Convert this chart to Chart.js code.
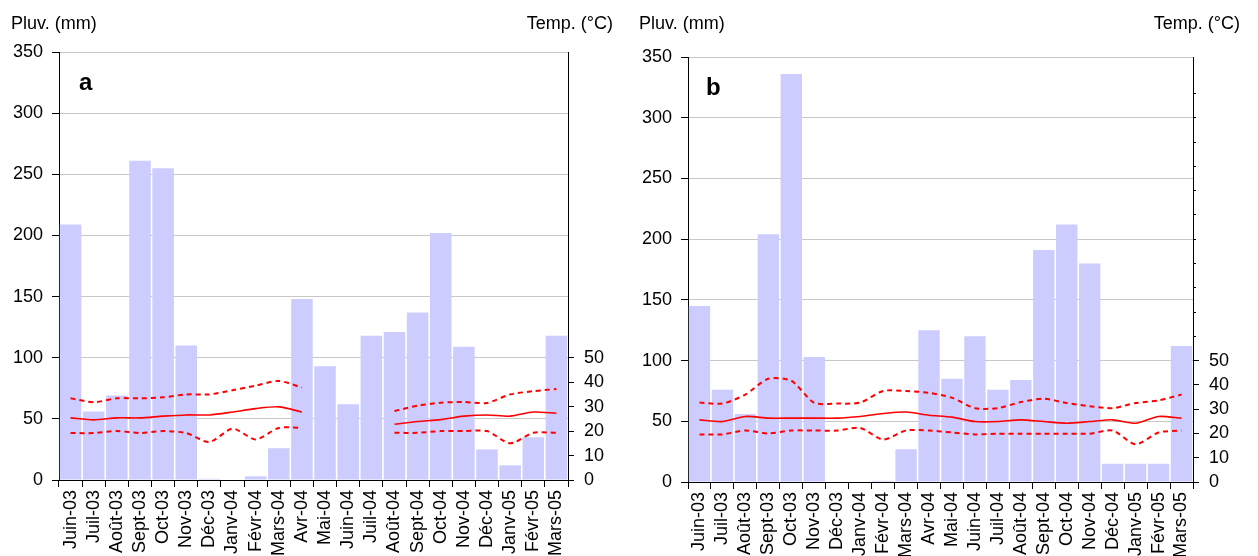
<!DOCTYPE html>
<html lang="fr">
<head>
    <meta charset="UTF-8">
    <title>Pluviométrie et températures</title>
    <script src="https://cdn.jsdelivr.net/npm/chart.js"></script>
    <style>
        body {
            margin: 0;
            background: #fff;
            font-family: 'Liberation Sans', Arial, sans-serif;
        }
        .wrap {
            position: relative;
            width: 1258px;
            height: 556px;
            overflow: hidden;
        }
        canvas {
            position: absolute;
            top: 0;
        }
        .lbl {
            position: absolute;
            font-size: 18px;
            line-height: 18px;
            color: #000;
            white-space: nowrap;
        }
        .letter {
            position: absolute;
            font-size: 24px;
            line-height: 24px;
            font-weight: bold;
            color: #000;
        }
    </style>
</head>
<body>
    <div class="wrap">
        <canvas id="chartA" width="629" height="556" style="left:0"></canvas>
        <canvas id="chartB" width="629" height="556" style="left:629px"></canvas>
        <div class="lbl" style="left:11px; top:14px">Pluv. (mm)</div>
        <div class="lbl" style="right:645px; top:14px">Temp. (°C)</div>
        <div class="letter" style="left:79px; top:70px">a</div>
        <div class="lbl" style="left:639px; top:14px">Pluv. (mm)</div>
        <div class="lbl" style="right:18px; top:14px">Temp. (°C)</div>
        <div class="letter" style="left:706px; top:75px">b</div>
    </div>

    <script>
        const months = ['Juin-03', 'Juil-03', 'Août-03', 'Sept-03', 'Oct-03', 'Nov-03', 'Déc-03', 'Janv-04',
            'Févr-04', 'Mars-04', 'Avr-04', 'Mai-04', 'Juin-04', 'Juil-04', 'Août-04', 'Sept-04', 'Oct-04',
            'Nov-04', 'Déc-04', 'Janv-05', 'Févr-05', 'Mars-05'];

        // station a
        const rainA = [209, 56, 69, 261, 255, 110, 1, 0, 3, 26, 148, 93, 62, 118, 121, 137, 202, 109, 25, 12, 35, 118];
        const tmaxA = [33.4, 31.8, 33.4, 33.4, 33.8, 35, 35, 36.7, 38.6, 40.5, 37.8, null, null, null, 28.2, 30.4, 31.6, 31.9, 31.5, 35, 36.3, 37.2];
        const tmeanA = [25.4, 24.6, 25.4, 25.4, 26.1, 26.6, 26.6, 27.8, 29.2, 29.9, 27.8, null, null, null, 22.8, 23.9, 24.7, 26.1, 26.6, 26.1, 27.8, 27.3];
        const tminA = [19.2, 19.2, 20, 19.2, 20, 19.2, 15.5, 21, 16.6, 21.3, 21.3, null, null, null, 19.3, 19.3, 20, 20, 20, 15, 19.3, 19.3];

        // station b
        const rainB = [145, 76, 56, 204, 336, 103, 0, 0, 1, 27, 125, 85, 120, 76, 84, 191, 212, 180, 15, 15, 15, 112];
        const tmaxB = [32.7, 32.3, 36, 42.5, 41.7, 32.6, 32.3, 32.7, 37.5, 37.5, 36.7, 34.7, 30.4, 30.4, 32.9, 34.3, 32.5, 31.2, 30.4, 32.5, 33.6, 36];
        const tmeanB = [25.6, 24.9, 27, 26.3, 26.3, 26.3, 26.3, 27, 28.2, 28.8, 27.5, 26.7, 24.9, 24.9, 25.6, 24.9, 24.2, 24.9, 25.6, 24.2, 27, 26.3];
        const tminB = [19.6, 19.6, 21.2, 20, 21.2, 21.2, 21.2, 22.3, 17.5, 21.2, 21.2, 20.4, 19.6, 19.9, 19.9, 19.9, 19.9, 19.9, 21.2, 15.5, 20.4, 21.2];

        const rainTicks = { min: 0, max: 350, step: 50 };
        const tempTicks = { min: 0, max: 175, step: 10, lastLabel: 50 };

        Chart.defaults.font.family = "'Liberation Sans', Arial, sans-serif";
        Chart.defaults.color = '#000';

        function makeChart(id, rain, tmax, tmean, tmin, box) {
            const dashed = { borderColor: '#ff0000', borderWidth: 2, borderDash: [5, 4], pointRadius: 0, tension: 0.25, spanGaps: false };
            return new Chart(document.getElementById(id), {
                type: 'bar',
                data: {
                    labels: months,
                    datasets: [
                        { type: 'line', label: 'Tmax', data: tmax, yAxisID: 'y2', order: 1, ...dashed },
                        { type: 'line', label: 'Tmoy', data: tmean, yAxisID: 'y2', order: 1,
                          borderColor: '#ff0000', borderWidth: 1.6, pointRadius: 0, tension: 0.25, spanGaps: false },
                        { type: 'line', label: 'Tmin', data: tmin, yAxisID: 'y2', order: 1, ...dashed },
                        { label: 'Pluv.', data: rain, yAxisID: 'y', order: 2, backgroundColor: '#ccccff',
                          barPercentage: 1, categoryPercentage: 0.93 }
                    ]
                },
                options: {
                    responsive: false,
                    animation: false,
                    layout: { padding: { top: box.top, left: 0, right: 0, bottom: 0 } },
                    plugins: { legend: { display: false }, tooltip: { enabled: false } },
                    scales: {
                        x: {
                            grid: { offset: true, drawOnChartArea: false, tickLength: 7, color: '#000' },
                            border: { color: '#000' },
                            ticks: { autoSkip: false, minRotation: 90, maxRotation: 90, padding: 3, font: { size: 18 } },
                            afterFit: s => { s.height = box.xh; }
                        },
                        y: {
                            position: 'left',
                            min: rainTicks.min,
                            max: rainTicks.max,
                            ticks: { stepSize: rainTicks.step, padding: 9, font: { size: 18 } },
                            grid: { color: '#c8c8c8', tickColor: '#000', tickLength: 7 },
                            border: { color: '#000' },
                            afterFit: s => { s.width = box.left; }
                        },
                        y2: {
                            position: 'right',
                            min: tempTicks.min,
                            max: tempTicks.max,
                            ticks: {
                                stepSize: tempTicks.step, padding: 10, font: { size: 18 },
                                callback: v => (v <= tempTicks.lastLabel ? v : '')
                            },
                            afterBuildTicks: s => {
                                s.ticks = s.ticks.filter(t => t.value % tempTicks.step === 0 &&
                                    (box.allTicks || t.value <= tempTicks.lastLabel));
                            },
                            grid: {
                                drawOnChartArea: false, tickLength: 6, color: '#000',
                                // unlabelled ticks above 50 are only short marks
                                tickBorderDash: ctx => (ctx.tick && ctx.tick.value > tempTicks.lastLabel ? [2, 20] : [])
                            },
                            border: { color: '#000' },
                            afterFit: s => { s.width = box.right; }
                        }
                    }
                }
            });
        }

        makeChart('chartA', rainA, tmaxA, tmeanA, tminA, { top: 52, left: 59, right: 61, xh: 76, allTicks: false });
        makeChart('chartB', rainB, tmaxB, tmeanB, tminB, { top: 57, left: 59, right: 65, xh: 74, allTicks: true });
    </script>
</body>
</html>
